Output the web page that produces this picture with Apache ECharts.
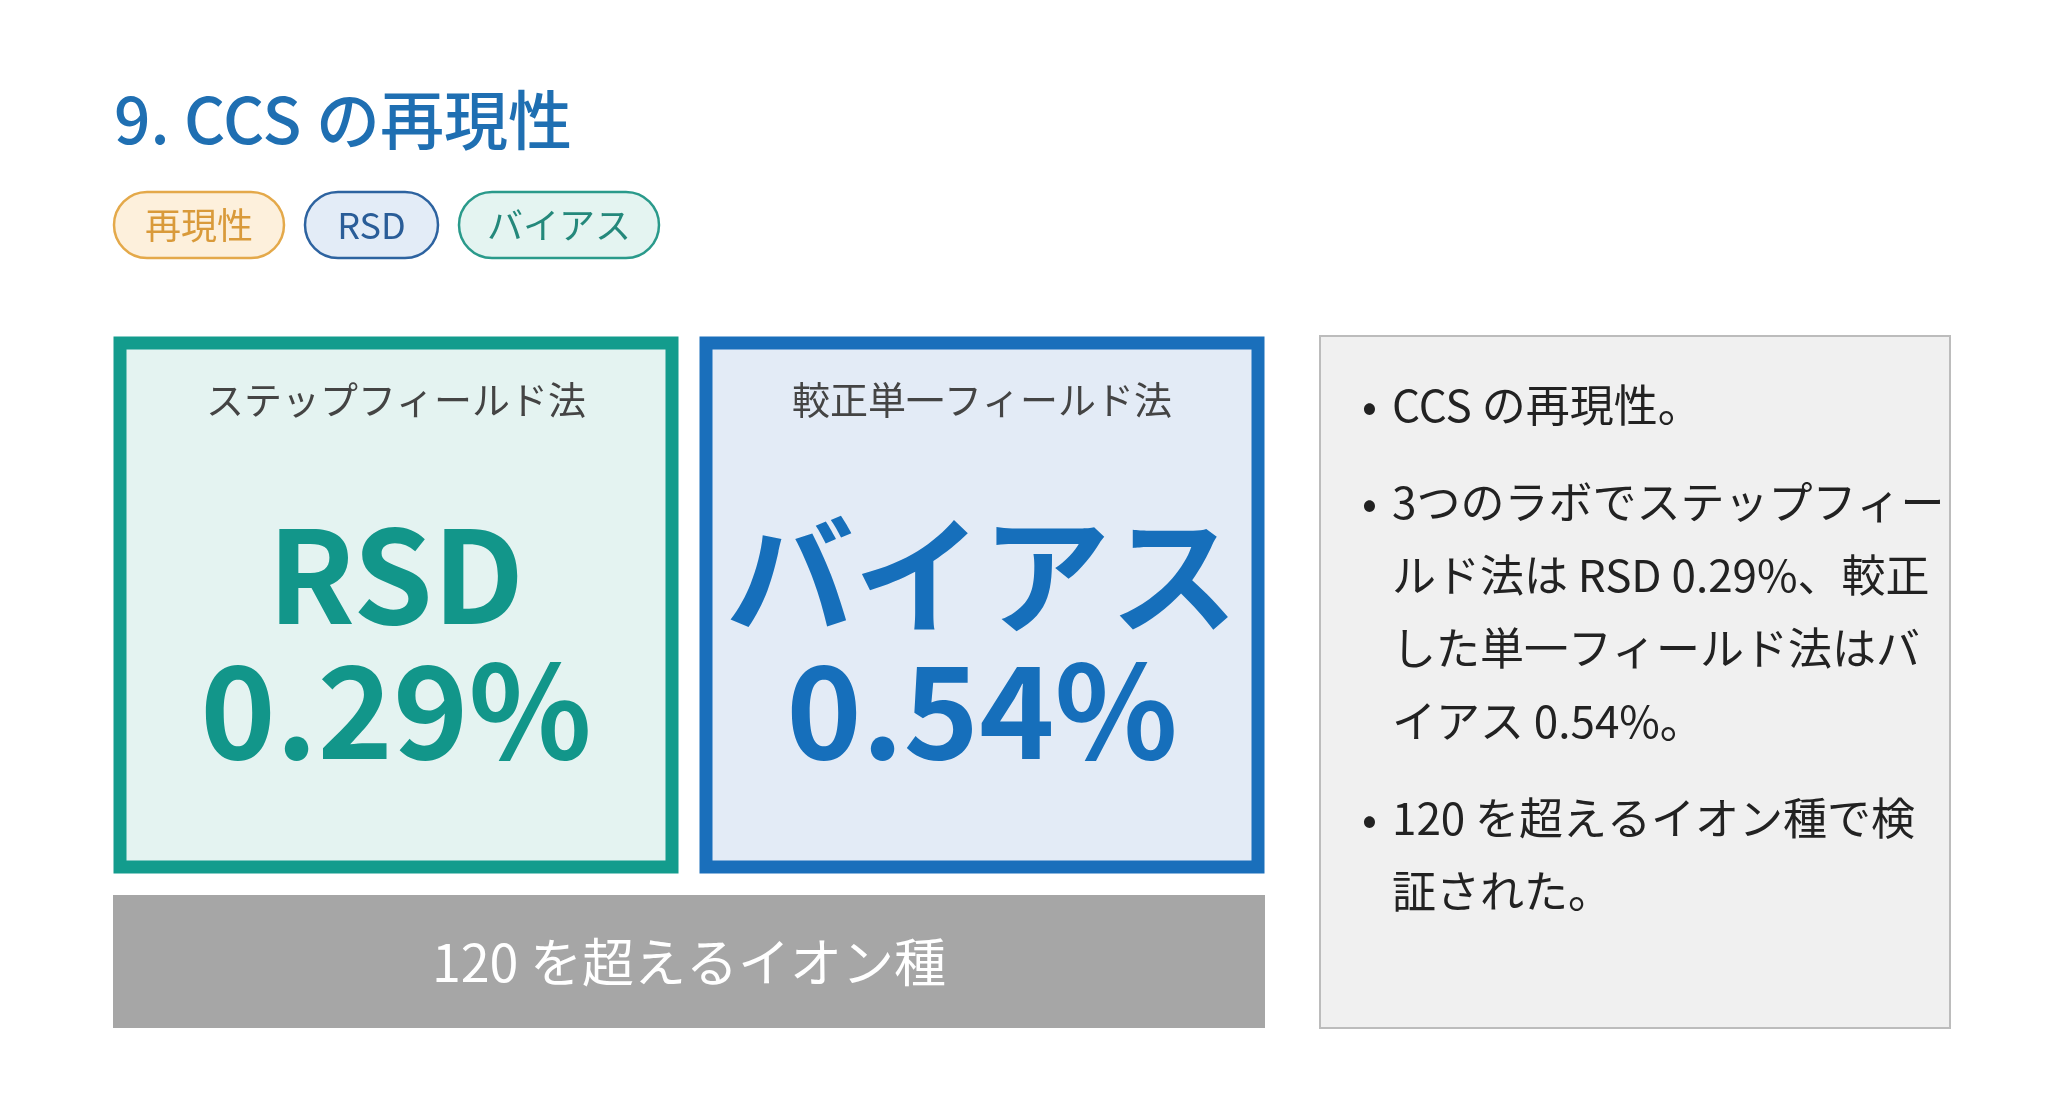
<!DOCTYPE html>
<html><head><meta charset="utf-8">
<script src="https://cdn.jsdelivr.net/npm/echarts@6/dist/echarts.min.js"></script>
<style>html,body{margin:0;padding:0;background:#fff}#c{width:2064px;height:1101px}</style>
</head><body><div id="c"></div>
<script>
const title = "9. CCS の再現性";
const tags = ["再現性", "RSD", "バイアス"];
const boxHeads = ["ステップフィールド法", "較正単一フィールド法"];
const boxMetrics = ["RSD", "バイアス"];
const boxValues = ["0.29%", "0.54%"];
const footer = "120 を超えるイオン種";
const bullets = [
  ["CCS の再現性。"],
  ["3つのラボでステップフィー", "ルド法は RSD 0.29%、較正", "した単一フィールド法はバ", "イアス 0.54%。"],
  ["120 を超えるイオン種で検", "証された。"]
];

const F = '"Noto Sans CJK JP","Noto Sans",sans-serif';
const g = [];
g.push({type:'text', left:114, top:88, style:{text:title, font:'500 64px '+F, fill:'#1f6fb2'}});
const tagStyles = [
  {x:114,w:170,fill:'#fdf0dc',stroke:'#e4a94a',color:'#d99a3a'},
  {x:305,w:133,fill:'#e3ecf7',stroke:'#2d63a0',color:'#2a5d98'},
  {x:459,w:200,fill:'#e4f4f1',stroke:'#2a9a8b',color:'#24887b'}
];
tags.forEach((t,i)=>{
  const s=tagStyles[i];
  g.push({type:'rect', shape:{x:s.x,y:192,width:s.w,height:66,r:33}, style:{fill:s.fill,stroke:s.stroke,lineWidth:2.5}});
  g.push({type:'text', x:s.x+s.w/2, y:225, style:{text:t,font:'36px '+F,fill:s.color,align:'center',verticalAlign:'middle'}});
});
const boxS = [
  {x:113,fill:'#e4f3f1',stroke:'#139c8d',color:'#12968a'},
  {x:699,fill:'#e3ebf6',stroke:'#1a6fbb',color:'#166fbb'}
];
boxS.forEach((s,i)=>{
  g.push({type:'rect', shape:{x:s.x+7,y:343,width:552,height:524}, style:{fill:s.fill,stroke:s.stroke,lineWidth:13}});
  const cx=s.x+283;
  g.push({type:'text', x:cx, y:400, style:{text:boxHeads[i],font:'38px '+F,fill:'#444',align:'center',verticalAlign:'middle'}});
  g.push({type:'text', x:cx, y:575, style:{text:boxMetrics[i],font:'bold 128px '+F,fill:s.color,align:'center',verticalAlign:'middle'}});
  g.push({type:'text', x:cx, y:710, style:{text:boxValues[i],font:'bold 128px '+F,fill:s.color,align:'center',verticalAlign:'middle'}});
});
g.push({type:'rect', shape:{x:113,y:895,width:1152,height:133}, style:{fill:'#a6a6a6'}});
g.push({type:'text', x:689, y:962, style:{text:footer,font:'52px '+F,fill:'#fff',align:'center',verticalAlign:'middle'}});
g.push({type:'rect', shape:{x:1320,y:336,width:630,height:692}, style:{fill:'#f0f0f0',stroke:'#bcbcbc',lineWidth:2}});
let y=405;
const lh=73;
bullets.forEach((b,i)=>{
  g.push({type:'text', x:1362, y:y, style:{text:'•',font:'44px '+F,fill:'#222',verticalAlign:'middle'}});
  b.forEach((line,j)=>{
    g.push({type:'text', x:1392, y:y+j*lh, style:{text:line,font:'44px '+F,fill:'#222',verticalAlign:'middle'}});
  });
  y += b.length*lh + 24;
});
const chart = echarts.init(document.getElementById('c'));
chart.setOption({graphic:g});
</script></body></html>
